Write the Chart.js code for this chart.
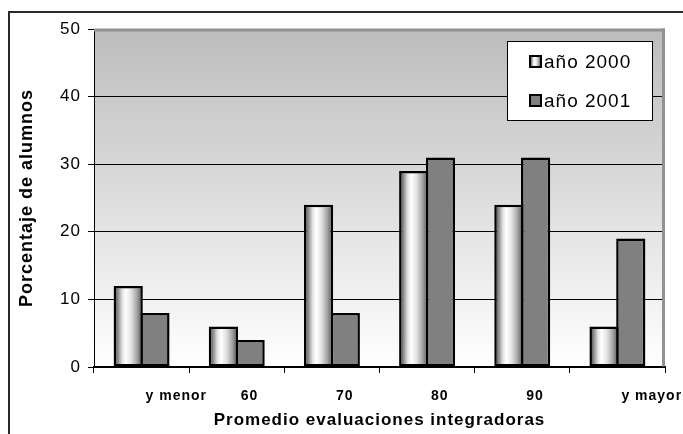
<!DOCTYPE html>
<html lang="es">
<head>
<meta charset="utf-8">
<title>Promedio evaluaciones integradoras</title>
<script src="https://cdn.jsdelivr.net/npm/chart.js@4/dist/chart.umd.min.js"></script>
<style>
  html, body { margin: 0; padding: 0; background: #ffffff; }
  canvas { display: block; }
</style>
</head>
<body>
<canvas id="c" width="683" height="434"></canvas>
<script>
// Categorías del eje X
const categorias = ['y menor', '60', '70', '80', '90', 'y mayor'];
// Porcentaje de alumnos por año
const anio2000 = [12, 6, 24, 29, 24, 6];
const anio2001 = [8, 4, 8, 31, 31, 19];
// Nombres de las series
const serie2000 = 'año 2000';
const serie2001 = 'año 2001';
// Escala del eje Y
const yMin = 0, yMax = 50, yPaso = 10;

const FUENTE = "'Liberation Sans', Arial, Helvetica, sans-serif";
const ESPACIADO = '1px';

// Relleno tipo cilindro para las barras del 2000
function cilindro(ctx, x0, x1) {
  const g = ctx.createLinearGradient(x0, 0, x1, 0);
  g.addColorStop(0.00, '#2e2e2e');
  g.addColorStop(0.12, '#7a7a7a');
  g.addColorStop(0.30, '#e4e4e4');
  g.addColorStop(0.42, '#ffffff');
  g.addColorStop(0.60, '#e2e2e2');
  g.addColorStop(0.80, '#a4a4a4');
  g.addColorStop(1.00, '#4a4a4a');
  return g;
}

const decoracion = {
  id: 'decoracion',
  beforeInit(chart) { chart.ctx.letterSpacing = ESPACIADO; },
  beforeDraw(chart) {
    const ctx = chart.ctx;
    ctx.letterSpacing = ESPACIADO;
    const a = chart.chartArea;
    // fondo degradado del área de trazado
    const g = ctx.createLinearGradient(0, a.top, 0, a.bottom);
    g.addColorStop(0, '#bcbcbc');
    g.addColorStop(1, '#ffffff');
    ctx.save();
    ctx.fillStyle = g;
    ctx.fillRect(a.left, a.top, a.right - a.left, a.bottom - a.top);
    ctx.restore();
  },
  beforeDatasetsDraw(chart) {
    const ctx = chart.ctx;
    const meta = chart.getDatasetMeta(0);
    meta.data.forEach(el => {
      const x0 = el.x - el.width / 2, x1 = el.x + el.width / 2;
      el.options = Object.assign({}, el.options, { backgroundColor: cilindro(ctx, x0, x1) });
    });
  },
  afterDraw(chart) {
    const ctx = chart.ctx;
    const a = chart.chartArea;
    ctx.save();
    // marco gris superior y derecho del área de trazado
    ctx.fillStyle = '#929292';
    ctx.fillRect(a.left, a.top - 0.5, a.right - a.left, 3);
    ctx.fillRect(a.right - 3, a.top - 0.5, 3, a.bottom - a.top);

    // leyenda
    const lx = 507, ly = 41, lw = 145, lh = 79;
    ctx.fillStyle = '#ffffff';
    ctx.fillRect(lx, ly, lw, lh);
    ctx.strokeStyle = '#000000';
    ctx.lineWidth = 1;
    ctx.strokeRect(lx + 0.5, ly + 0.5, lw, lh);

    const items = [
      { texto: chart.data.datasets[0].label, y: 62, grad: true },
      { texto: chart.data.datasets[1].label, y: 101, grad: false }
    ];
    items.forEach(it => {
      const sx = 530, sy = it.y - 6, s = 11;
      ctx.fillStyle = it.grad ? cilindro(ctx, sx, sx + s) : '#808080';
      ctx.fillRect(sx, sy, s, s);
      ctx.strokeStyle = '#000000';
      ctx.lineWidth = 2;
      ctx.strokeRect(sx, sy, s, s);
      ctx.fillStyle = '#000000';
      ctx.font = '19px ' + FUENTE;
      ctx.textAlign = 'left';
      ctx.textBaseline = 'middle';
      ctx.fillText(it.texto, 544, it.y + 1);
    });

    // borde exterior del gráfico
    ctx.strokeStyle = '#2a2a2a';
    ctx.lineWidth = 2;
    ctx.beginPath();
    ctx.moveTo(9, 440);
    ctx.lineTo(9, 12);
    ctx.lineTo(690, 12);
    ctx.stroke();
    ctx.restore();
  }
};

new Chart(document.getElementById('c'), {
  type: 'bar',
  data: {
    labels: categorias,
    datasets: [
      {
        label: serie2000,
        data: anio2000,
        backgroundColor: '#d0d0d0',
        borderColor: '#000000',
        borderWidth: 2.5,
        borderSkipped: false,
        barPercentage: 1.093,
        categoryPercentage: 0.562
      },
      {
        label: serie2001,
        data: anio2001,
        backgroundColor: '#808080',
        borderColor: '#000000',
        borderWidth: 2.5,
        borderSkipped: false,
        barPercentage: 1.093,
        categoryPercentage: 0.562
      }
    ]
  },
  options: {
    responsive: false,
    devicePixelRatio: 1,
    animation: false,
    events: [],
    layout: { padding: { left: 0, top: 29, right: 18, bottom: 0 } },
    plugins: {
      legend: { display: false },
      tooltip: { enabled: false }
    },
    scales: {
      x: {
        grid: {
          offset: true,
          drawOnChartArea: false,
          drawTicks: true,
          tickLength: 6,
          color: '#000000'
        },
        border: { display: true, color: '#000000', width: 2 },
        ticks: {
          align: 'start',
          labelOffset: 4,
          padding: 15,
          maxRotation: 0,
          autoSkip: false,
          color: '#000000',
          font: { family: FUENTE, size: 14, weight: 'bold' }
        },
        title: {
          display: true,
          text: 'Promedio evaluaciones integradoras',
          color: '#000000',
          font: { family: FUENTE, size: 17, weight: 'bold' },
          padding: { top: 0, bottom: 3 }
        },
        afterFit(scale) {
          scale.height = 67;
          scale.paddingLeft = 0;
          scale.paddingRight = 0;
        }
      },
      y: {
        min: yMin,
        max: yMax,
        ticks: {
          stepSize: yPaso,
          padding: 7,
          color: '#000000',
          font: { family: FUENTE, size: 17 }
        },
        grid: {
          color: '#000000',
          lineWidth: 1,
          tickLength: 6,
          drawTicks: true
        },
        border: { display: true, color: '#000000', width: 1 },
        title: {
          display: true,
          text: 'Porcentaje de alumnos',
          color: '#000000',
          font: { family: FUENTE, size: 18, weight: 'bold' },
          padding: { top: 16, bottom: 0 }
        },
        afterFit(scale) {
          scale.width = 94;
          scale.paddingTop = 0;
          scale.paddingBottom = 0;
        }
      }
    }
  },
  plugins: [decoracion]
});
</script>
</body>
</html>
